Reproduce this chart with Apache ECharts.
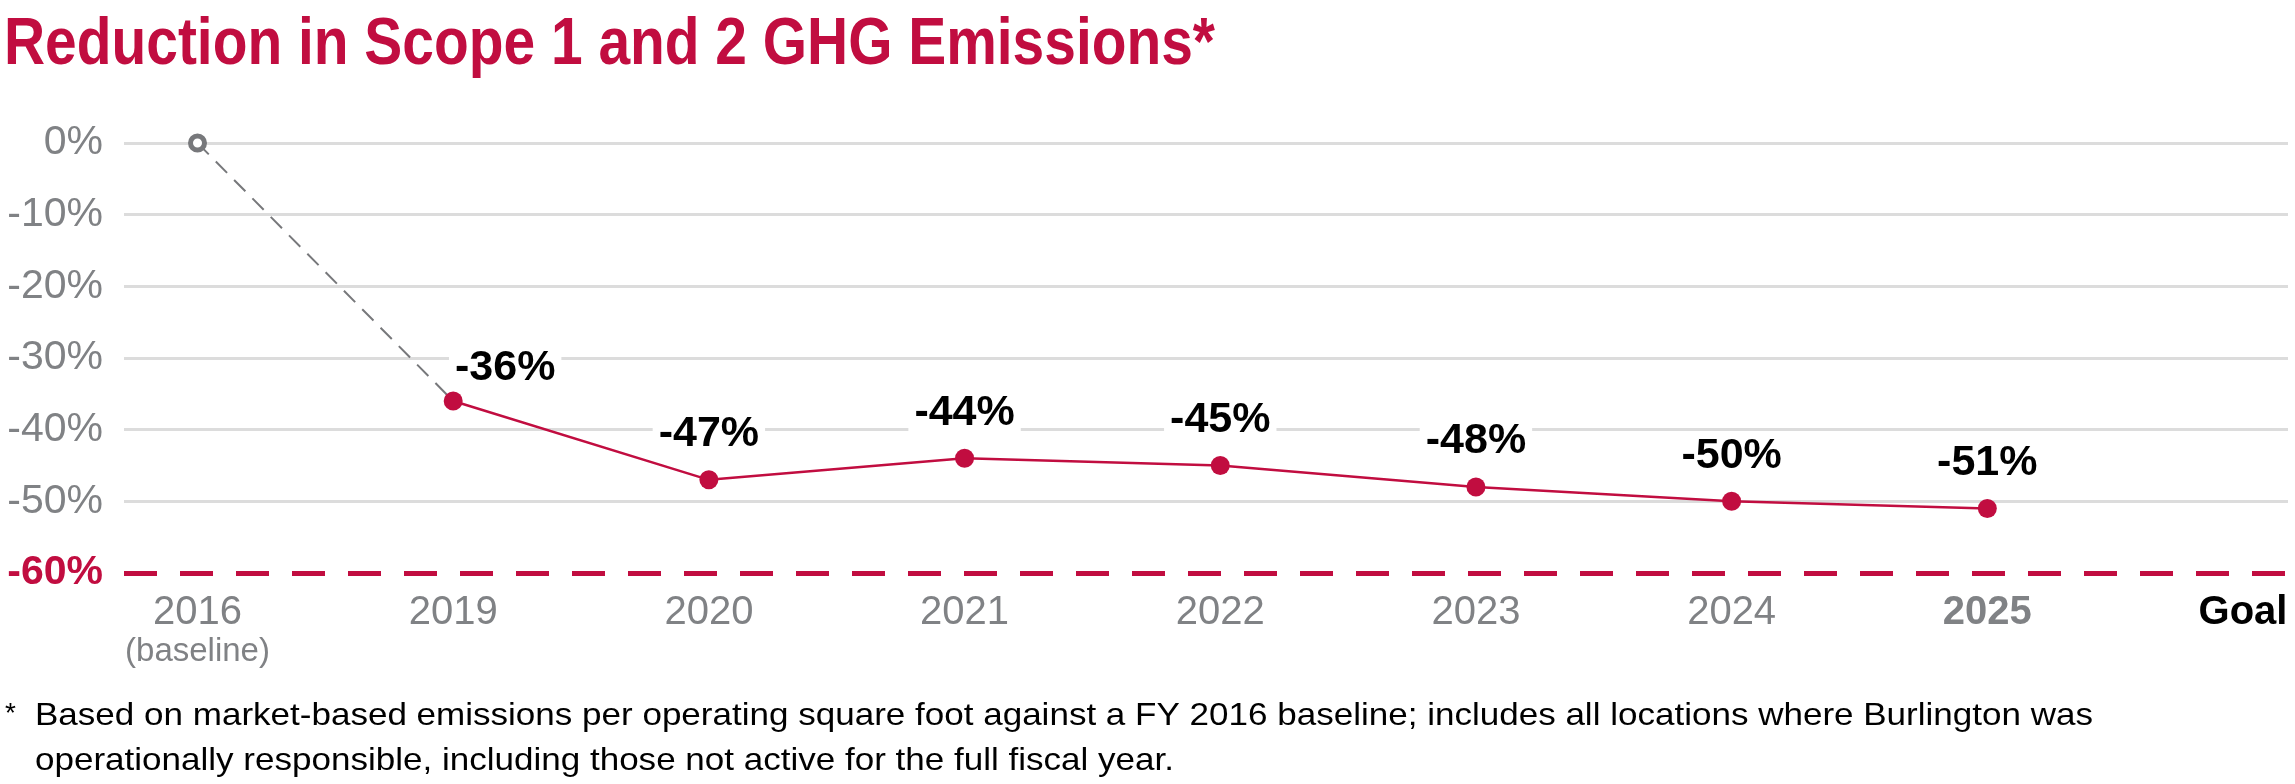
<!DOCTYPE html>
<html><head><meta charset="utf-8">
<script src="https://cdn.jsdelivr.net/npm/echarts@6/dist/echarts.min.js"></script>
<style>html,body{margin:0;padding:0;background:#fff}#c{width:2295px;height:784px}</style>
</head><body><div id="c"></div>
<script>
// ---- data ----
const categories = ['2016', '2019', '2020', '2021', '2022', '2023', '2024', '2025', 'Goal'];
const baselineYears = ['2016', '2019'];
const baselineValues = [0, -36];
const reductionYears = ['2019', '2020', '2021', '2022', '2023', '2024', '2025'];
const reductionValues = [-36, -47, -44, -45, -48, -50, -51];
const goalValue = -60;
const yTicks = [0, -10, -20, -30, -40, -50, -60];
const titleText = 'Reduction in Scope 1 and 2 GHG Emissions*';
const footnoteLines = [
  'Based on market-based emissions per operating square foot against a FY 2016 baseline; includes all locations where Burlington was',
  'operationally responsible, including those not active for the full fiscal year.'
];

// ---- styling ----
const RED = '#c10d40';
const GRAY = '#808285';
const FONT = "'Liberation Sans', Arial, Helvetica, sans-serif";
const NARROW = "'Liberation Sans Narrow', 'Arial Narrow', 'Liberation Sans', Arial, sans-serif";

function fitScale(text, font, target) {
  const ctx = document.createElement('canvas').getContext('2d');
  ctx.font = font;
  return target / ctx.measureText(text).width;
}
const titleScale = fitScale(titleText, 'bold 66px ' + NARROW, 1211);
const footScale = fitScale(footnoteLines[0], '32px ' + FONT, 2058);

const idx = y => categories.indexOf(y);
const baselineData = baselineYears.map((y, i) => ({
  value: [idx(y), baselineValues[i]],
  symbol: i === 0 ? 'circle' : 'none'
}));
const reductionData = reductionYears.map((y, i) => {
  const item = { value: [idx(y), reductionValues[i]] };
  if (i === 0) item.label = { distance: 1, offset: [52, 0] };
  return item;
});

const chart = echarts.init(document.getElementById('c'), null, { renderer: 'canvas' });
chart.setOption({
  animation: false,
  backgroundColor: '#fff',
  grid: { left: 124, right: 7, top: 143, bottom: 211, containLabel: false },
  xAxis: {
    type: 'value',
    min: -0.2875,
    max: 8.176,
    axisLine: { show: false },
    axisTick: { show: false },
    splitLine: { show: false },
    axisLabel: {
      customValues: categories.map((c, i) => i),
      margin: 18,
      formatter: v => {
        const c = categories[Math.round(v)];
        if (c === '2016') return '{g|2016}\n{s|(baseline)}';
        if (c === '2025') return '{gb|2025}';
        if (c === 'Goal') return '{k|Goal}';
        return '{g|' + c + '}';
      },
      rich: {
        g: { fontSize: 40, color: GRAY, fontFamily: FONT, lineHeight: 44 },
        gb: { fontSize: 40, color: GRAY, fontFamily: FONT, fontWeight: 'bold', lineHeight: 44 },
        k: { fontSize: 40, color: '#000', fontFamily: FONT, fontWeight: 'bold', lineHeight: 44 },
        s: { fontSize: 33, color: GRAY, fontFamily: FONT, lineHeight: 34 }
      }
    }
  },
  yAxis: {
    type: 'value',
    min: goalValue,
    max: yTicks[0],
    interval: 10,
    axisLine: { show: false },
    axisTick: { show: false },
    splitLine: { show: true, showMinLine: false, lineStyle: { color: '#dcdcdc', width: 3 } },
    axisLabel: {
      margin: 21,
      formatter: v => v === goalValue ? '{r|' + v + '%}' : '{g|' + v + '%}',
      rich: {
        g: { fontSize: 41, color: GRAY, fontFamily: FONT },
        r: { fontSize: 41, color: RED, fontFamily: FONT, fontWeight: 'bold' }
      }
    }
  },
  series: [
    {
      type: 'line',
      data: baselineData,
      symbolSize: 14,
      itemStyle: { color: '#fff', borderColor: '#77787b', borderWidth: 5 },
      lineStyle: { color: '#77787b', width: 2, type: [16, 10] },
      z: 3,
      silent: true,
      markLine: {
        silent: true,
        symbol: 'none',
        label: { show: false },
        lineStyle: { color: RED, width: 5, type: [33, 23] },
        data: [{ yAxis: goalValue }]
      }
    },
    {
      type: 'line',
      data: reductionData,
      symbol: 'circle',
      symbolSize: 19,
      itemStyle: { color: RED },
      lineStyle: { color: RED, width: 2.5 },
      z: 4,
      label: {
        show: true,
        position: 'top',
        distance: 14,
        formatter: p => p.value[1] + '%',
        fontSize: 43,
        fontWeight: 'bold',
        fontFamily: FONT,
        color: '#000',
        backgroundColor: '#fff',
        lineHeight: 44,
        padding: [0, 6, 0, 6]
      }
    }
  ],
  graphic: [
    {
      type: 'text', x: 4, y: 46, scaleX: titleScale,
      style: { text: titleText, fontSize: 66, fontWeight: 'bold', fontFamily: NARROW, fill: RED, verticalAlign: 'middle', align: 'left' }
    },
    {
      type: 'text', x: 5, y: 714,
      style: { text: '*', fontSize: 28, fontFamily: FONT, fill: '#000', verticalAlign: 'middle', align: 'left' }
    },
    {
      type: 'text', x: 35, y: 716, scaleX: footScale,
      style: { text: footnoteLines[0], fontSize: 32, fontFamily: FONT, fill: '#000', verticalAlign: 'middle', align: 'left' }
    },
    {
      type: 'text', x: 35, y: 761, scaleX: footScale,
      style: { text: footnoteLines[1], fontSize: 32, fontFamily: FONT, fill: '#000', verticalAlign: 'middle', align: 'left' }
    }
  ]
});
</script>
</body></html>
